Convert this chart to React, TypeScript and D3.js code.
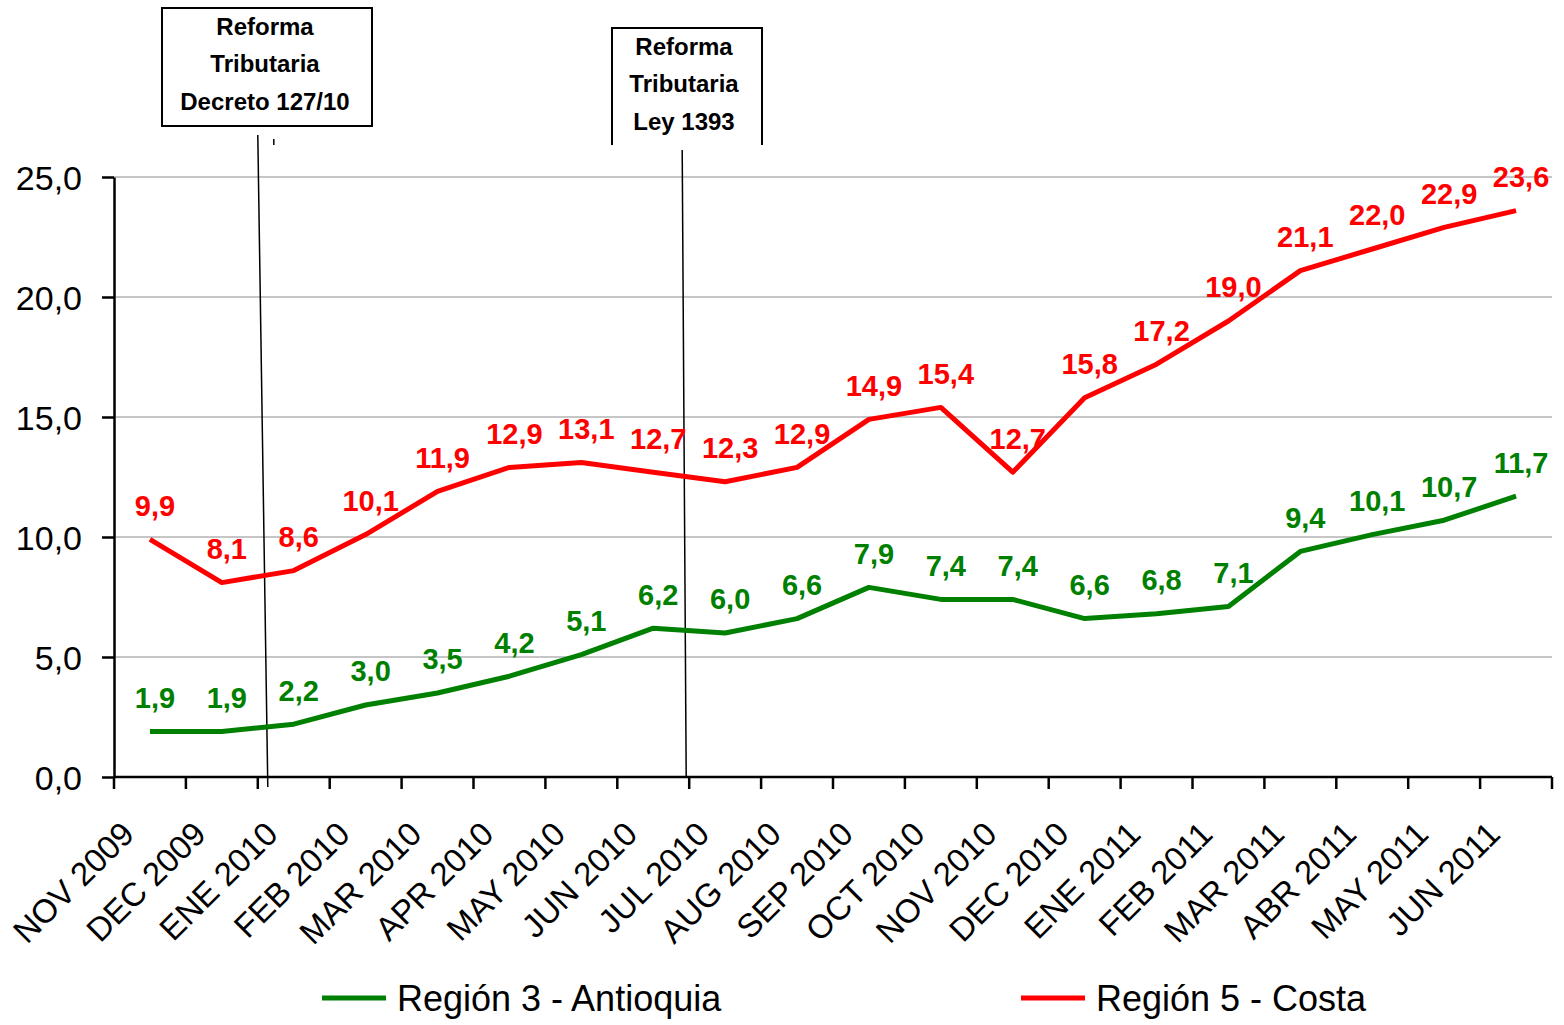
import React, { useEffect, useRef } from "react";
import * as d3 from "d3";

const months = [
  "NOV 2009", "DEC 2009", "ENE 2010", "FEB 2010", "MAR 2010", "APR 2010",
  "MAY 2010", "JUN 2010", "JUL 2010", "AUG 2010", "SEP 2010", "OCT 2010",
  "NOV 2010", "DEC 2010", "ENE 2011", "FEB 2011", "MAR 2011", "ABR 2011",
  "MAY 2011", "JUN 2011",
];

const antioquia = [1.9, 1.9, 2.2, 3.0, 3.5, 4.2, 5.1, 6.2, 6.0, 6.6, 7.9, 7.4, 7.4, 6.6, 6.8, 7.1, 9.4, 10.1, 10.7, 11.7];
const costa = [9.9, 8.1, 8.6, 10.1, 11.9, 12.9, 13.1, 12.7, 12.3, 12.9, 14.9, 15.4, 12.7, 15.8, 17.2, 19.0, 21.1, 22.0, 22.9, 23.6];

const yTicks = [0, 5, 10, 15, 20, 25];

const series = [
  { name: "Región 3 - Antioquia", values: antioquia, color: "#008000" },
  { name: "Región 5 - Costa", values: costa, color: "#ff0000" },
];

const notes = [
  { lines: ["Reforma", "Tributaria", "Decreto 127/10"], edge: 2 },
  { lines: ["Reforma", "Tributaria", "Ley 1393"], edge: 8 },
];

const fmt = (v: number) => v.toFixed(1).replace(".", ",");

const App = () => {
  const ref = useRef<SVGSVGElement>(null);

  useEffect(() => {
    const svg = d3.select(ref.current).attr("width", 1564).attr("height", 1025);
    svg.selectAll("*").remove();

    const left = 114, right = 1552, top = 177, bottom = 777;

    const x = d3.scaleBand().domain(months).range([left, right]).padding(0);
    const edge = d3.scaleLinear().domain([0, months.length]).range([left, right]);
    const y = d3.scaleLinear().domain([0, 25]).range([bottom, top]);
    const cx = (i: number) => x(months[i])! + x.bandwidth() / 2;

    const font = "'Liberation Sans', Arial, sans-serif";

    // gridlines
    svg.append("g")
      .selectAll("line")
      .data(yTicks.filter((t) => t > 0))
      .join("line")
      .attr("x1", left).attr("x2", right)
      .attr("y1", (d) => y(d)).attr("y2", (d) => y(d))
      .attr("stroke", "#8c8c8c").attr("stroke-width", 1);

    // y axis
    const yAxis = svg.append("g")
      .attr("transform", `translate(${left},0)`)
      .call(d3.axisLeft(y).tickValues(yTicks).tickSize(12).tickSizeOuter(0).tickFormat((d) => fmt(+d)));
    yAxis.select(".domain").attr("stroke", "#000").attr("stroke-width", 2.5);
    yAxis.selectAll(".tick line").attr("stroke", "#000").attr("stroke-width", 2.5);
    yAxis.selectAll(".tick text")
      .attr("x", -32).attr("dy", "0.36em")
      .attr("font-family", font).attr("font-size", 34).attr("fill", "#000");

    // x axis
    const xg = svg.append("g");
    xg.append("line")
      .attr("x1", left).attr("x2", right).attr("y1", bottom).attr("y2", bottom)
      .attr("stroke", "#000").attr("stroke-width", 2.5);
    xg.selectAll("line.tk")
      .data(d3.range(months.length + 1))
      .join("line")
      .attr("class", "tk")
      .attr("x1", (d) => edge(d)).attr("x2", (d) => edge(d))
      .attr("y1", bottom).attr("y2", bottom + 12)
      .attr("stroke", "#000").attr("stroke-width", 2.5);
    xg.selectAll("text")
      .data(months)
      .join("text")
      .attr("transform", (_, i) => `translate(${cx(i) - 14},836) rotate(-45)`)
      .attr("text-anchor", "end")
      .attr("font-family", font).attr("font-size", 33).attr("fill", "#000")
      .text((d) => d);

    // annotations
    notes.forEach((n, k) => {
      const ex = edge(n.edge);
      const g = svg.append("g");
      if (k === 0) {
        g.append("rect")
          .attr("x", 162).attr("y", 8).attr("width", 210).attr("height", 118)
          .attr("fill", "#fff").attr("stroke", "#000").attr("stroke-width", 2);
        g.append("line").attr("x1", ex).attr("y1", 135).attr("x2", ex + 10).attr("y2", bottom + 10)
          .attr("stroke", "#000").attr("stroke-width", 1.5);
        g.append("line").attr("x1", ex + 16).attr("y1", 139).attr("x2", ex + 16).attr("y2", 145)
          .attr("stroke", "#000").attr("stroke-width", 1.5);
      } else {
        g.append("path")
          .attr("d", `M612,145V28H762V145`)
          .attr("fill", "none").attr("stroke", "#000").attr("stroke-width", 2);
        g.append("line").attr("x1", ex - 7).attr("y1", 150).attr("x2", ex - 3).attr("y2", bottom)
          .attr("stroke", "#000").attr("stroke-width", 1.5);
      }
      const tx = k === 0 ? 265 : 684;
      const ty = k === 0 ? 26 : 46;
      g.selectAll("text")
        .data(n.lines)
        .join("text")
        .attr("x", tx).attr("y", (_, i) => ty + i * 37.5)
        .attr("dy", "0.36em")
        .attr("text-anchor", "middle")
        .attr("font-family", font).attr("font-weight", "bold").attr("font-size", 24).attr("fill", "#000")
        .text((d) => d);
    });

    // lines
    const line = d3.line<number>().x((_, i) => cx(i)).y((d) => y(d));
    series.forEach((s) => {
      svg.append("path")
        .datum(s.values)
        .attr("d", line)
        .attr("fill", "none")
        .attr("stroke", s.color)
        .attr("stroke-width", 5)
        .attr("stroke-linejoin", "round");
      svg.append("g")
        .selectAll("text")
        .data(s.values)
        .join("text")
        .attr("x", (_, i) => cx(i) + 5)
        .attr("y", (d) => y(d) - 34)
        .attr("dy", "0.36em")
        .attr("text-anchor", "middle")
        .attr("font-family", font).attr("font-weight", "bold").attr("font-size", 29)
        .attr("fill", s.color)
        .text((d) => fmt(d));
    });

    // legend
    const legendX = [322, 1021];
    series.forEach((s, i) => {
      const g = svg.append("g").attr("transform", `translate(${legendX[i]},998)`);
      g.append("line").attr("x1", 0).attr("x2", 64).attr("stroke", s.color).attr("stroke-width", 5);
      g.append("text")
        .attr("x", 75).attr("dy", "0.36em")
        .attr("font-family", font).attr("font-size", 36).attr("fill", "#000")
        .text(s.name);
    });
  }, []);

  return <svg ref={ref} style={{ position: "absolute", left: 0, top: 0 }}></svg>;
};

export default App;
